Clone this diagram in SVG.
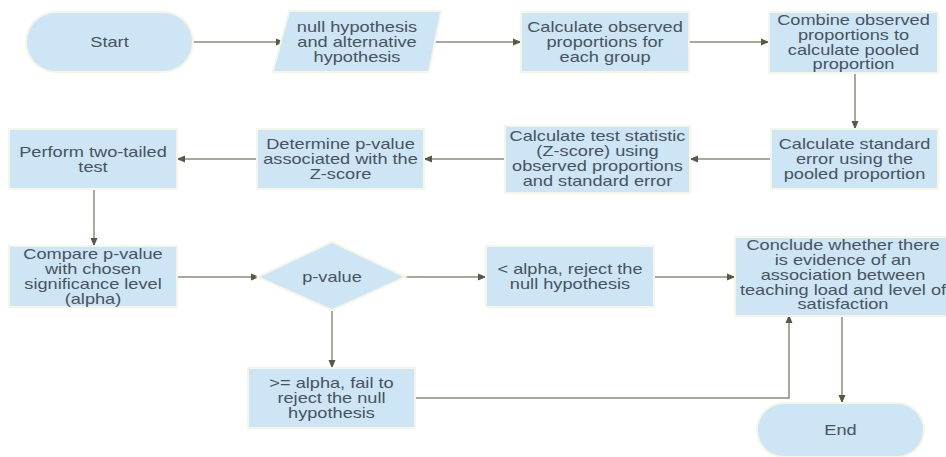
<svg xmlns="http://www.w3.org/2000/svg" width="946" height="457" viewBox="0 0 946 457">
<style>
.n{fill:#cde5f4;stroke:#f4f6e8;stroke-width:4;paint-order:stroke}
.t{font-family:"Liberation Sans",Arial,sans-serif;font-size:14px;fill:#47545f;text-anchor:middle}
.c{fill:none;stroke:#8d8b78;stroke-width:1.5}
</style>
<defs>
<marker id="ah" markerWidth="9" markerHeight="8" refX="8" refY="4" orient="auto" markerUnits="userSpaceOnUse">
<path d="M0,0.5 L8.5,4 L0,7.5 Z" fill="#5a5946"/>
</marker>
</defs>
<rect width="946" height="457" fill="#ffffff"/>
<g id="connectors">
<path class="c" d="M192,42 H284" marker-end="url(#ah)"/>
<path class="c" d="M434,42 H521" marker-end="url(#ah)"/>
<path class="c" d="M688,42 H769" marker-end="url(#ah)"/>
<path class="c" d="M855,72 V129" marker-end="url(#ah)"/>
<path class="c" d="M772,159 H690" marker-end="url(#ah)"/>
<path class="c" d="M506,159 H424" marker-end="url(#ah)"/>
<path class="c" d="M258,159 H177" marker-end="url(#ah)"/>
<path class="c" d="M94,188 V246" marker-end="url(#ah)"/>
<path class="c" d="M176,277 H259" marker-end="url(#ah)"/>
<path class="c" d="M403,277 H486" marker-end="url(#ah)"/>
<path class="c" d="M653,277 H735" marker-end="url(#ah)"/>
<path class="c" d="M332,309 V368" marker-end="url(#ah)"/>
<path class="c" d="M414,398 H789 V315" marker-end="url(#ah)"/>
<path class="c" d="M842,315 V403" marker-end="url(#ah)"/>
</g>
<g id="start">
<rect class="n" x="27" y="13" width="165" height="58" rx="29"/>
<text class="t" transform="translate(109.5,0) scale(1.3,1)" x="0" y="47">Start</text>
</g>
<g id="hypothesis">
<polygon class="n" points="290,12 440,12 428,71 274,71"/>
<text class="t" transform="translate(357,0) scale(1.3,1)"><tspan x="0" y="32">null hypothesis</tspan><tspan x="0" y="47">and alternative</tspan><tspan x="0" y="62">hypothesis</tspan></text>
</g>
<g id="observed">
<rect class="n" x="522" y="13" width="166" height="58"/>
<text class="t" transform="translate(605,0) scale(1.3,1)"><tspan x="0" y="32">Calculate observed</tspan><tspan x="0" y="47">proportions for</tspan><tspan x="0" y="62">each group</tspan></text>
</g>
<g id="pooled">
<rect class="n" x="770" y="13" width="167" height="59"/>
<text class="t" transform="translate(853.5,0) scale(1.3,1)"><tspan x="0" y="25">Combine observed</tspan><tspan x="0" y="40">proportions to</tspan><tspan x="0" y="55">calculate pooled</tspan><tspan x="0" y="69">proportion</tspan></text>
</g>
<g id="stderr">
<rect class="n" x="772" y="130" width="165" height="58"/>
<text class="t" transform="translate(854.5,0) scale(1.3,1)"><tspan x="0" y="149">Calculate standard</tspan><tspan x="0" y="164">error using the</tspan><tspan x="0" y="179">pooled proportion</tspan></text>
</g>
<g id="teststat">
<rect class="n" x="506" y="127" width="183" height="65"/>
<text class="t" transform="translate(597.5,0) scale(1.3,1)"><tspan x="0" y="141">Calculate test statistic</tspan><tspan x="0" y="156">(Z-score) using</tspan><tspan x="0" y="171">observed proportions</tspan><tspan x="0" y="186">and standard error</tspan></text>
</g>
<g id="pvalue">
<rect class="n" x="258" y="130" width="165" height="58"/>
<text class="t" transform="translate(340.5,0) scale(1.3,1)"><tspan x="0" y="149">Determine p-value</tspan><tspan x="0" y="164">associated with the</tspan><tspan x="0" y="179">Z-score</tspan></text>
</g>
<g id="twotailed">
<rect class="n" x="10" y="130" width="166" height="58"/>
<text class="t" transform="translate(93,0) scale(1.3,1)"><tspan x="0" y="157">Perform two-tailed</tspan><tspan x="0" y="172">test</tspan></text>
</g>
<g id="compare">
<rect class="n" x="10" y="247" width="166" height="59"/>
<text class="t" transform="translate(93,0) scale(1.3,1)"><tspan x="0" y="259">Compare p-value</tspan><tspan x="0" y="274">with chosen</tspan><tspan x="0" y="289">significance level</tspan><tspan x="0" y="304">(alpha)</tspan></text>
</g>
<g id="decision">
<polygon class="n" points="260,277 332,243 403,277 332,309"/>
<text class="t" transform="translate(332,0) scale(1.3,1)" x="0" y="282">p-value</text>
</g>
<g id="reject">
<rect class="n" x="487" y="247" width="166" height="59"/>
<text class="t" transform="translate(570,0) scale(1.3,1)"><tspan x="0" y="274">&lt; alpha, reject the</tspan><tspan x="0" y="289">null hypothesis</tspan></text>
</g>
<g id="conclude">
<rect class="n" x="736" y="238" width="214" height="77"/>
<text class="t" transform="translate(843,0) scale(1.3,1)"><tspan x="0" y="250">Conclude whether there</tspan><tspan x="0" y="265">is evidence of an</tspan><tspan x="0" y="280">association between</tspan><tspan x="0" y="295">teaching load and level of</tspan><tspan x="0" y="309">satisfaction</tspan></text>
</g>
<g id="failreject">
<rect class="n" x="249" y="369" width="165" height="58"/>
<text class="t" transform="translate(331.5,0) scale(1.3,1)"><tspan x="0" y="388">&gt;= alpha, fail to</tspan><tspan x="0" y="403">reject the null</tspan><tspan x="0" y="418">hypothesis</tspan></text>
</g>
<g id="end">
<rect class="n" x="758" y="404" width="165" height="52" rx="26"/>
<text class="t" transform="translate(840.5,0) scale(1.3,1)" x="0" y="435">End</text>
</g>
</svg>
